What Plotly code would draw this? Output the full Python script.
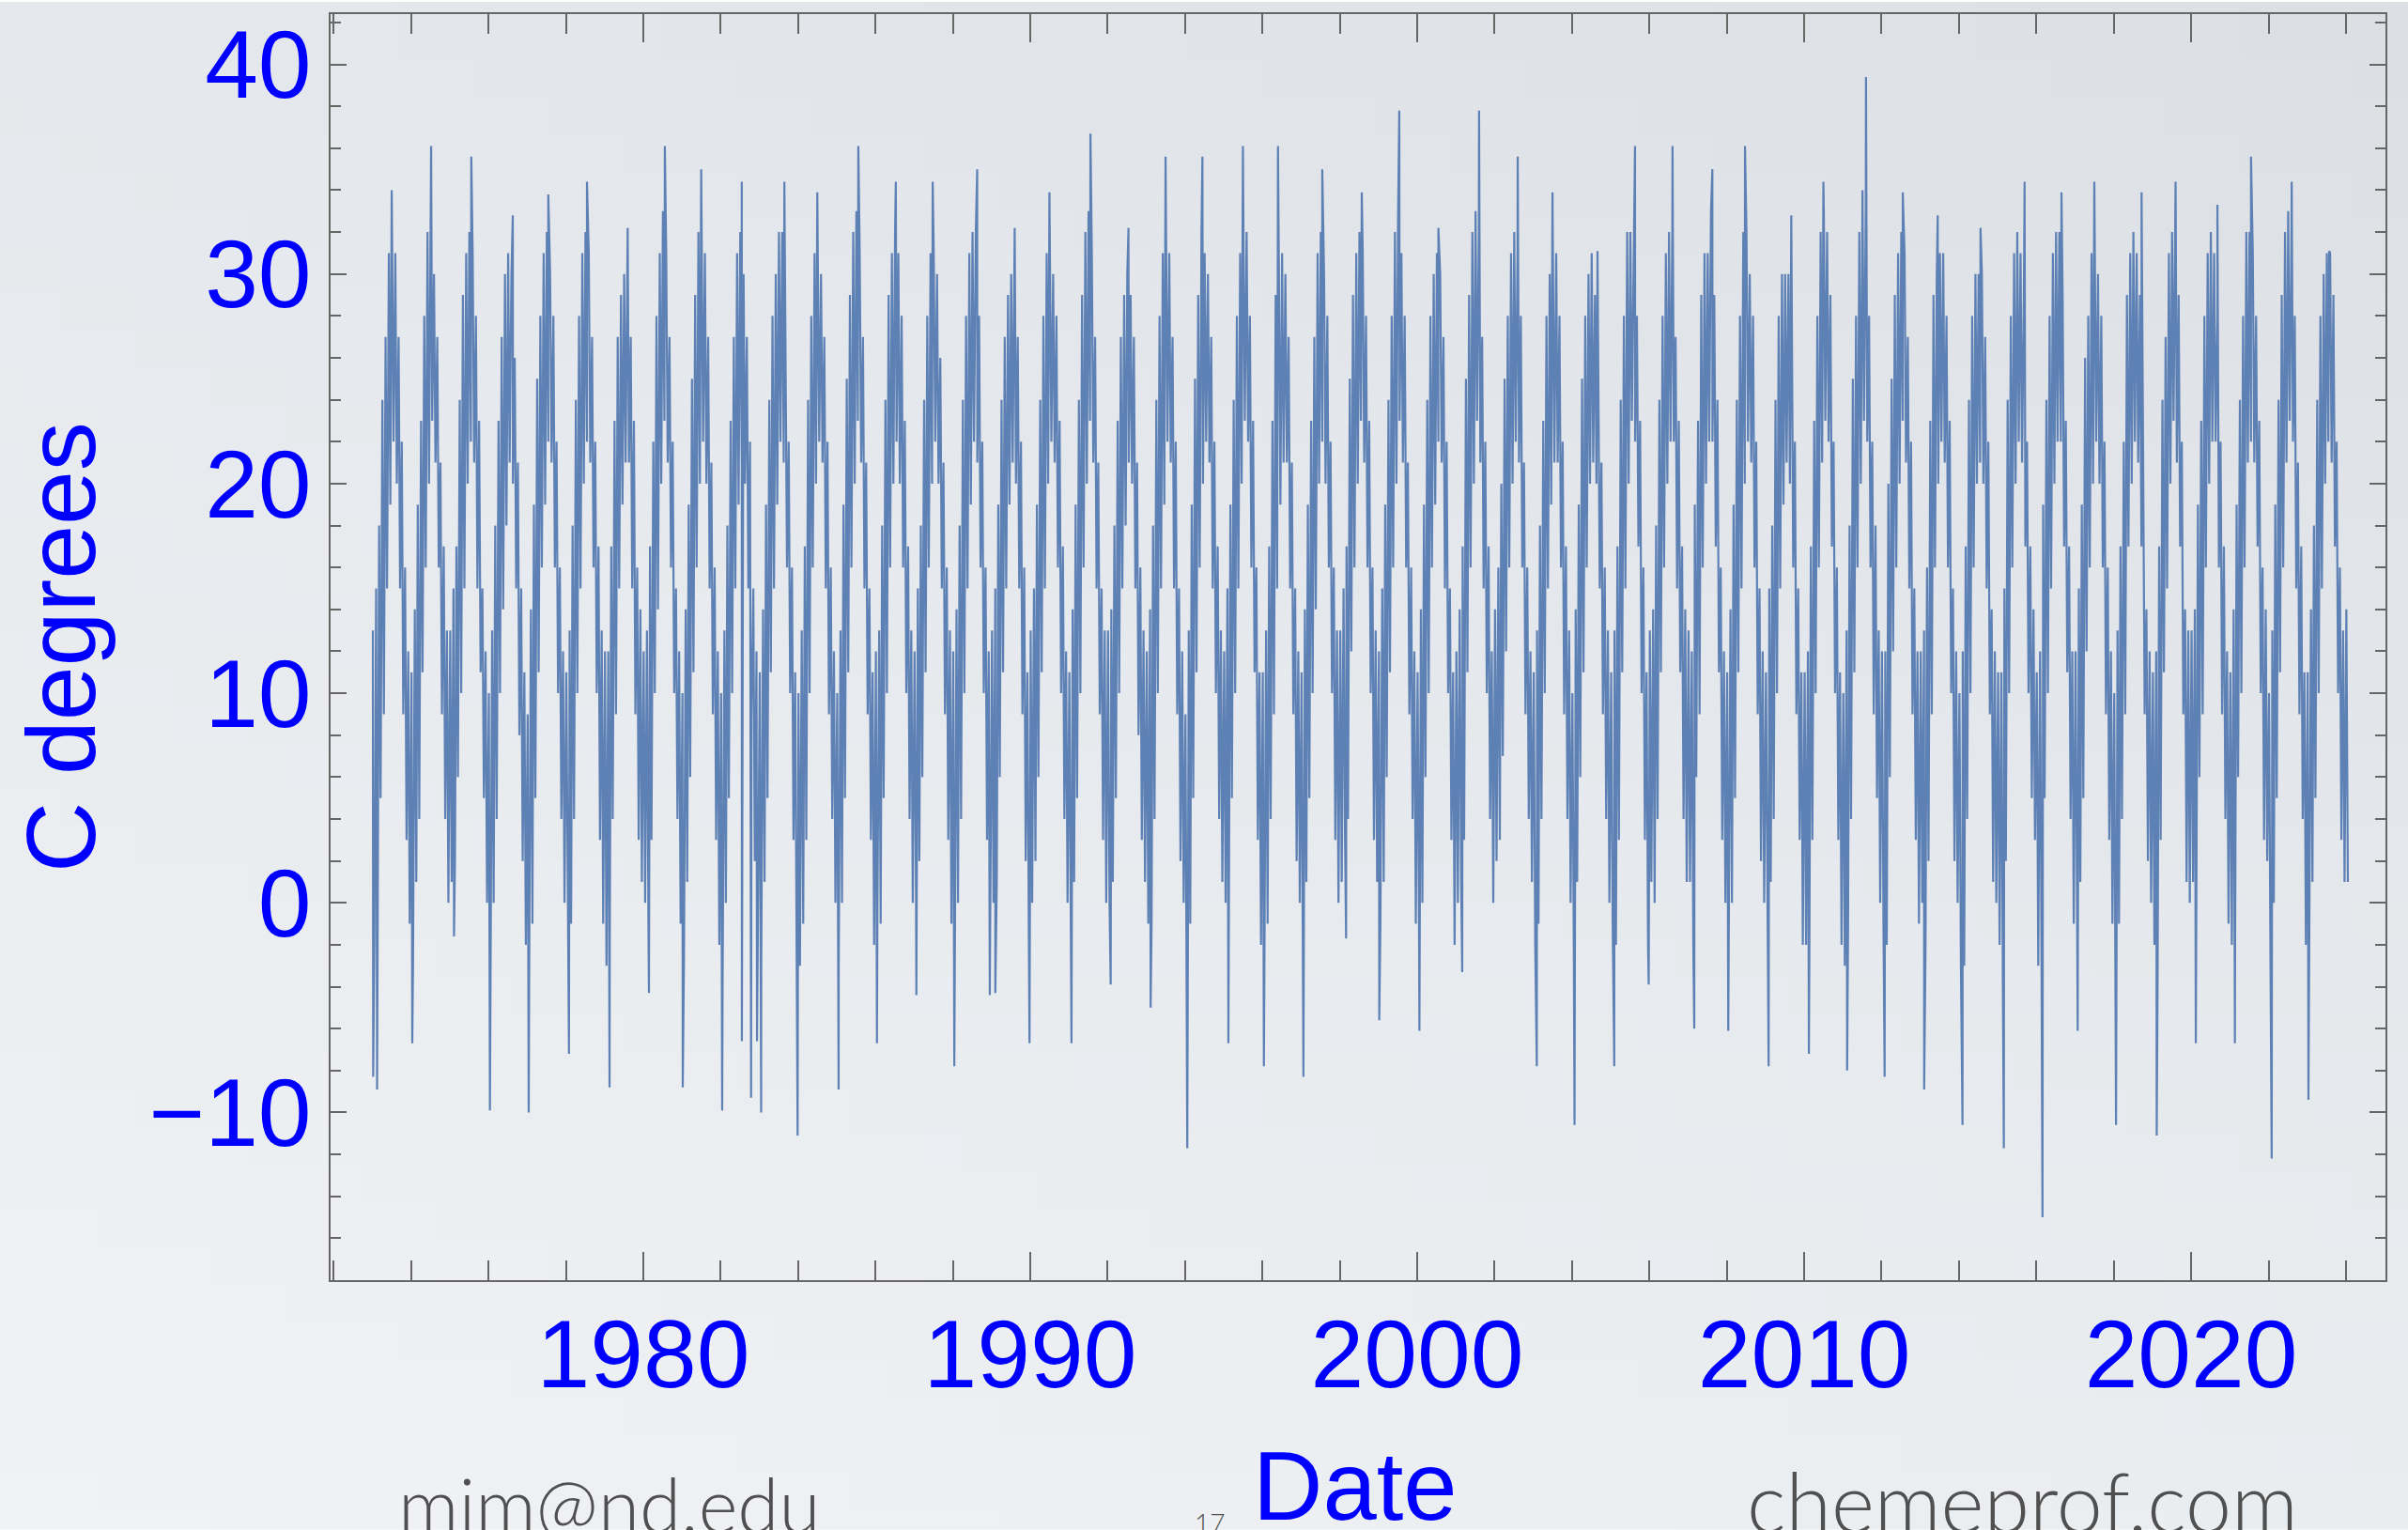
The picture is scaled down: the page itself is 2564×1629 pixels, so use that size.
import base64
import struct
import zlib

import pandas as pd
import plotly.graph_objects as go

# ---------------------------------------------------------------------------
# Data (C degrees). For every year: monthly upper / lower
# edges of the dense band, in the order
# [Jan hi, Jan lo, Feb hi, Feb lo, ..., Dec hi, Dec lo]
# ---------------------------------------------------------------------------
y1973 = [13, -2, 15, 0, 18, 5, 24, 9, 27, 15, 31, 19, 32, 22, 31, 20, 27, 15, 22, 9, 16, 3, 12, -1]
y1974 = [11, -3, 14, 1, 19, 4, 23, 11, 28, 16, 32, 20, 33, 23, 30, 21, 27, 16, 21, 9, 17, 4, 13, 0]
y1975 = [13, 1, 15, 2, 17, 6, 24, 10, 29, 15, 31, 20, 32, 22, 31, 21, 28, 15, 23, 11, 15, 5, 12, 0]
y1976 = [10, -4, 13, 0, 18, 4, 23, 10, 27, 14, 30, 18, 31, 21, 30, 20, 26, 15, 21, 8, 15, 2, 11, -2]
y1977 = [9, -4, 14, -1, 19, 5, 25, 11, 28, 16, 31, 19, 32, 22, 30, 21, 28, 16, 22, 10, 16, 4, 12, 0]
y1978 = [11, -2, 13, -1, 18, 4, 24, 10, 28, 15, 31, 20, 32, 22, 31, 21, 27, 16, 22, 10, 17, 3, 13, -1]
y1979 = [12, -3, 12, -2, 17, 4, 23, 9, 27, 15, 29, 19, 30, 21, 31, 21, 27, 15, 23, 9, 16, 3, 14, 1]
y1980 = [12, 0, 13, -1, 17, 3, 22, 10, 28, 14, 31, 20, 33, 23, 31, 21, 27, 16, 22, 10, 15, 4, 12, -1]
y1981 = [10, -3, 14, 1, 19, 6, 25, 11, 29, 16, 32, 20, 32, 22, 31, 20, 27, 15, 21, 9, 16, 3, 12, -2]
y1982 = [10, -4, 13, 0, 18, 5, 23, 10, 27, 15, 31, 19, 32, 21, 30, 20, 27, 15, 22, 9, 15, 2, 12, -1]
y1983 = [11, -3, 14, 1, 19, 5, 24, 11, 28, 15, 30, 19, 32, 22, 32, 21, 28, 16, 22, 10, 16, 3, 11, -3]
y1984 = [10, -3, 13, -1, 17, 3, 24, 10, 28, 16, 31, 20, 31, 22, 30, 21, 27, 15, 22, 9, 16, 4, 12, 0]
y1985 = [10, -3, 13, 0, 19, 5, 25, 11, 29, 16, 32, 20, 33, 23, 31, 21, 27, 15, 21, 9, 15, 3, 11, -2]
y1986 = [12, -1, 13, -1, 18, 5, 24, 10, 29, 16, 31, 20, 32, 22, 31, 20, 28, 16, 23, 10, 17, 4, 13, 0]
y1987 = [12, 0, 15, 2, 18, 6, 24, 11, 28, 16, 31, 20, 31, 22, 30, 20, 26, 15, 21, 9, 16, 3, 13, -1]
y1988 = [12, -2, 14, 0, 18, 4, 24, 10, 28, 15, 31, 19, 32, 22, 32, 21, 28, 16, 22, 10, 16, 3, 12, -1]
y1989 = [13, 0, 15, 1, 19, 6, 24, 11, 27, 15, 29, 19, 30, 21, 30, 20, 27, 15, 22, 9, 16, 2, 11, -2]
y1990 = [13, 0, 15, 2, 19, 6, 24, 11, 28, 15, 31, 20, 31, 22, 30, 21, 28, 16, 23, 10, 17, 4, 12, 0]
y1991 = [11, -2, 14, 1, 19, 5, 24, 10, 29, 16, 32, 20, 33, 23, 31, 21, 27, 15, 21, 9, 15, 3, 13, 0]
y1992 = [13, 0, 14, 1, 18, 5, 23, 10, 27, 15, 29, 18, 30, 21, 29, 20, 27, 15, 21, 8, 16, 3, 13, 1]
y1993 = [12, -1, 14, -1, 18, 4, 24, 10, 28, 15, 31, 19, 32, 22, 31, 21, 27, 15, 22, 9, 15, 2, 12, 0]
y1994 = [9, -4, 13, -1, 19, 5, 25, 11, 29, 16, 32, 20, 31, 22, 30, 21, 27, 15, 22, 10, 17, 4, 13, 1]
y1995 = [12, 0, 15, 0, 19, 5, 24, 10, 28, 15, 31, 20, 33, 23, 32, 22, 28, 16, 23, 11, 16, 3, 11, -2]
y1996 = [11, -3, 13, -1, 17, 4, 23, 9, 29, 15, 30, 19, 31, 21, 30, 21, 27, 15, 21, 9, 15, 2, 12, 0]
y1997 = [11, -3, 14, 1, 19, 5, 23, 10, 27, 14, 31, 20, 32, 22, 30, 20, 28, 16, 22, 10, 16, 3, 13, 0]
y1998 = [13, 1, 15, 3, 17, 4, 25, 12, 29, 16, 31, 20, 32, 23, 31, 21, 28, 16, 23, 10, 16, 3, 13, 1]
y1999 = [12, -1, 15, 1, 19, 6, 24, 11, 28, 16, 32, 20, 33, 23, 31, 21, 28, 16, 21, 9, 16, 4, 12, -1]
y2000 = [11, -2, 14, 0, 19, 6, 24, 10, 28, 16, 30, 19, 31, 22, 30, 21, 27, 15, 22, 10, 15, 3, 11, -2]
y2001 = [12, 0, 14, 1, 17, 3, 25, 11, 29, 16, 32, 20, 33, 23, 32, 21, 27, 15, 22, 10, 17, 4, 12, 0]
y2002 = [14, 2, 16, 3, 20, 7, 25, 12, 28, 16, 31, 20, 32, 22, 31, 21, 28, 16, 21, 9, 16, 4, 12, 1]
y2003 = [11, -2, 13, -1, 18, 4, 23, 10, 28, 15, 30, 19, 31, 21, 31, 21, 28, 16, 22, 9, 17, 4, 13, 0]
y2004 = [10, -3, 14, 1, 19, 6, 25, 11, 28, 16, 30, 20, 31, 21, 29, 20, 27, 15, 21, 9, 16, 4, 13, 0]
y2005 = [11, -1, 13, -2, 17, 3, 24, 11, 28, 15, 32, 20, 32, 23, 31, 22, 28, 17, 23, 10, 16, 3, 11, -2]
y2006 = [13, 1, 14, 0, 18, 4, 24, 11, 28, 16, 31, 20, 32, 22, 32, 22, 27, 15, 23, 11, 17, 4, 14, 1]
y2007 = [13, 1, 12, -2, 19, 6, 23, 9, 29, 16, 31, 20, 31, 22, 33, 22, 29, 17, 24, 11, 16, 3, 12, 0]
y2008 = [11, -2, 14, 0, 19, 5, 24, 11, 28, 15, 32, 20, 32, 22, 30, 21, 28, 16, 22, 9, 15, 2, 12, 0]
y2009 = [11, -3, 15, 1, 18, 4, 24, 10, 28, 15, 30, 19, 30, 21, 30, 20, 28, 16, 22, 9, 15, 3, 11, -2]
y2010 = [11, -2, 12, -2, 17, 3, 23, 10, 28, 16, 32, 21, 33, 23, 32, 22, 29, 17, 22, 10, 16, 3, 11, -2]
y2011 = [10, -3, 13, -1, 18, 4, 25, 11, 28, 16, 32, 20, 34, 23, 33, 22, 28, 16, 22, 9, 18, 5, 13, 0]
y2012 = [12, -1, 12, -2, 20, 6, 25, 12, 29, 16, 31, 20, 32, 23, 31, 21, 27, 15, 22, 9, 15, 3, 12, -1]
y2013 = [12, 0, 13, -2, 16, 2, 23, 9, 29, 16, 30, 20, 31, 22, 31, 21, 28, 16, 23, 10, 15, 2, 12, 0]
y2014 = [10, -3, 12, -3, 17, 4, 24, 10, 28, 16, 30, 20, 30, 21, 30, 20, 27, 15, 22, 9, 14, 1, 12, 0]
y2015 = [11, -2, 11, -4, 15, 2, 24, 10, 28, 16, 31, 20, 32, 22, 31, 21, 29, 17, 22, 10, 17, 5, 14, 3]
y2016 = [11, -3, 12, -3, 19, 5, 24, 10, 28, 15, 31, 20, 32, 22, 32, 22, 29, 17, 23, 11, 17, 4, 12, -1]
y2017 = [12, 0, 15, 1, 19, 5, 26, 12, 28, 16, 31, 20, 32, 22, 30, 20, 28, 16, 22, 9, 16, 3, 12, -1]
y2018 = [10, -3, 13, -1, 17, 4, 22, 9, 29, 17, 31, 20, 32, 22, 31, 21, 29, 17, 21, 9, 14, 2, 12, 0]
y2019 = [11, -2, 12, -3, 17, 3, 24, 11, 27, 15, 31, 20, 32, 23, 31, 21, 29, 17, 22, 9, 14, 1, 13, 0]
y2020 = [13, 1, 14, -1, 19, 6, 23, 9, 28, 16, 31, 20, 32, 22, 31, 22, 28, 16, 22, 9, 17, 4, 12, -1]
y2021 = [11, -2, 14, -2, 19, 6, 24, 10, 28, 16, 32, 21, 32, 22, 31, 21, 28, 17, 23, 10, 16, 3, 14, 2]
y2022 = [10, -3, 13, 0, 19, 5, 24, 11, 29, 16, 32, 21, 33, 23, 32, 22, 28, 15, 21, 9, 17, 4, 11, -2]
y2023 = [11, -2, 14, 1, 18, 5, 24, 10, 28, 15, 30, 20, 31, 22, 31, 21, 29, 17, 22, 10, 16, 3, 13, 1]

band_years = list(range(1973, 2024))
band_values = [
    y1973, y1974, y1975, y1976, y1977, y1978, y1979, y1980, y1981, y1982,
    y1983, y1984, y1985, y1986, y1987, y1988, y1989, y1990, y1991, y1992,
    y1993, y1994, y1995, y1996, y1997, y1998, y1999, y2000, y2001, y2002,
    y2003, y2004, y2005, y2006, y2007, y2008, y2009, y2010, y2011, y2012,
    y2013, y2014, y2015, y2016, y2017, y2018, y2019, y2020, y2021, y2022,
    y2023,
]

# last few readings (January 2024)
tail_dates = ["2024-01-05", "2024-01-19"]
tail_values = [14, 1]

# isolated summer maxima (spikes above the band)
max_dates = [
    "1973-07-02", "1974-07-09", "1975-07-23", "1976-08-18", "1977-07-19",
    "1978-07-19", "1979-08-07", "1980-07-23", "1981-07-01", "1982-07-19",
    "1983-08-25", "1984-07-01", "1985-07-23", "1986-07-12", "1987-06-25",
    "1988-08-18", "1989-08-07", "1990-07-01", "1991-07-23", "1992-07-16",
    "1993-07-01", "1994-06-14", "1995-07-01", "1996-05-27", "1997-07-19",
    "1998-07-27", "1999-07-16", "2000-07-19", "2001-08-07", "2002-08-07",
    "2003-07-01", "2004-08-29", "2005-08-18", "2006-08-07", "2007-08-18",
    "2008-06-21", "2009-09-01", "2010-07-01", "2011-08-07", "2012-07-19",
    "2013-06-14", "2014-07-23", "2015-09-12", "2016-08-25", "2017-07-01",
    "2018-09-20", "2019-08-07", "2020-09-05", "2021-07-19", "2022-08-07",
    "2023-07-27",
]
max_values = [
    34.0, 36.1, 35.6, 32.8, 33.8, 34.4, 32.2, 36.1, 35.0, 34.4,
    34.4, 33.9, 36.1, 34.4, 34.4, 35.0, 32.2, 33.9, 36.7, 32.2,
    35.6, 35.6, 36.1, 36.1, 35.0, 33.9, 37.8, 32.2, 37.8, 35.6,
    33.9, 31.1, 36.1, 36.1, 35.0, 36.1, 32.8, 34.4, 39.4, 33.9,
    32.8, 32.2, 34.4, 33.9, 34.4, 33.9, 34.4, 33.3, 35.6, 34.4,
    31.1,
]

# isolated winter minima (spikes below the band)
min_dates = [
    "1973-01-08", "1973-02-14", "1974-01-12", "1975-02-10", "1976-01-15",
    "1977-01-15", "1978-01-30", "1979-02-17", "1980-02-24", "1981-01-08",
    "1982-01-15", "1982-07-20", "1982-10-15", "1982-12-10", "1983-01-18",
    "1983-12-28", "1985-01-18", "1986-01-15", "1987-01-22", "1988-01-15",
    "1988-12-15", "1989-02-05", "1989-12-25", "1991-01-25", "1992-01-30",
    "1993-02-10", "1994-01-22", "1995-02-14", "1996-01-15", "1997-01-22",
    "1998-03-01", "1999-01-08", "2000-01-22", "2001-03-01", "2003-02-03",
    "2004-01-25", "2005-02-03", "2005-12-25", "2007-02-28", "2008-01-15",
    "2009-01-30", "2010-02-14", "2011-02-10", "2012-01-30", "2013-02-06",
    "2014-02-03", "2015-02-28", "2016-02-28", "2017-01-25", "2018-01-22",
    "2019-02-10", "2020-02-14", "2021-02-17", "2022-01-30", "2023-01-12",
]
min_values = [
    -8.3, -8.9, -6.7, -1.6, -9.9,
    -10.0, -7.2, -8.8, -4.3, -8.8,
    -9.9, -6.6, -9.3, -6.6, -10.0,
    -11.1, -8.9, -6.7, -4.4, -7.8,
    -4.4, -4.3, -6.7, -6.7, -3.9,
    -5.0, -11.7, -6.7, -7.8, -8.3,
    -1.7, -5.6, -6.1, -3.3, -7.8,
    -10.6, -7.8, -3.9, -6.0, -6.1,
    -7.8, -7.2, -8.0, -8.3, -8.9,
    -10.6, -11.7, -15.0, -6.1, -10.6,
    -11.1, -6.7, -6.7, -12.2, -9.4,
]

x_tick_labels = ["1980", "1990", "2000", "2010", "2020"]
y_tick_values = [-10, 0, 10, 20, 30, 40]

# ---------------------------------------------------------------------------
# Assemble the time series (sorted by date)
# ---------------------------------------------------------------------------
points = []
for year, vals in zip(band_years, band_values):
    for m in range(12):
        points.append((pd.Timestamp(year, m + 1, 5), vals[2 * m]))
        points.append((pd.Timestamp(year, m + 1, 19), vals[2 * m + 1]))
for d, v in zip(tail_dates, tail_values):
    points.append((pd.Timestamp(d), v))
for d, v in zip(max_dates, max_values):
    points.append((pd.Timestamp(d), v))
for d, v in zip(min_dates, min_values):
    points.append((pd.Timestamp(d), v))
points.sort(key=lambda p: p[0])
xs = [p[0] for p in points]
ys = [p[1] for p in points]

# ---------------------------------------------------------------------------
# Slide background (soft grey gradient) as an inline PNG
# ---------------------------------------------------------------------------
def gradient_uri(w, h, tl, tr, bl, br):
    raw = bytearray()
    for j in range(h):
        fy = j / (h - 1)
        raw.append(0)
        for i in range(w):
            fx = i / (w - 1)
            for k in range(3):
                top = (1 - fx) * tl[k] + fx * tr[k]
                bot = (1 - fx) * bl[k] + fx * br[k]
                raw.append(int(round((1 - fy) * top + fy * bot)))

    def chunk(tag, data):
        return (struct.pack(">I", len(data)) + tag + data
                + struct.pack(">I", zlib.crc32(tag + data) & 0xFFFFFFFF))

    png = (b"\x89PNG\r\n\x1a\n"
           + chunk(b"IHDR", struct.pack(">IIBBBBB", w, h, 8, 2, 0, 0, 0))
           + chunk(b"IDAT", zlib.compress(bytes(raw)))
           + chunk(b"IEND", b""))
    return "data:image/png;base64," + base64.b64encode(png).decode()


bg = gradient_uri(64, 40, (229, 232, 236), (220, 224, 229), (240, 242, 245), (234, 237, 240))

W, H = 2564, 1629
L, R, T, B = 352, 24, 13, 266
PW, PH = W - L - R, H - T - B


def px(xp):
    return (xp - L) / PW


def py(yp):
    return (H - B - yp) / PH


fig = go.Figure()
fig.add_trace(go.Scatter(
    x=xs, y=ys, mode="lines",
    line=dict(color="#5E81B5", width=2.2),
    hoverinfo="skip", showlegend=False,
))

frame = "#666666"
tick_font = dict(family="Liberation Sans, Arial, sans-serif", size=102, color="#0000FF")

fig.update_layout(
    width=W, height=H,
    margin=dict(l=L, r=R, t=T, b=B, pad=0),
    paper_bgcolor="rgba(0,0,0,0)",
    plot_bgcolor="rgba(0,0,0,0)",
    showlegend=False,
    images=[dict(source=bg, xref="paper", yref="paper",
                 x=px(0), y=py(0), sizex=W / PW, sizey=H / PH,
                 xanchor="left", yanchor="top", sizing="stretch", layer="below")],
    xaxis=dict(
        type="date",
        range=["1971-12-03", "2025-01-08"],
        showgrid=False, zeroline=False,
        showline=True, linecolor=frame, linewidth=2, mirror="allticks",
        ticks="inside", ticklen=30, tickwidth=2, tickcolor=frame,
        tickmode="array",
        tickvals=[pd.Timestamp(int(t), 1, 1) for t in x_tick_labels],
        ticktext=x_tick_labels,
        tickfont=tick_font,
        ticklabelstandoff=-10,
        minor=dict(dtick="M24", tick0="1972-01-01", ticks="inside",
                   ticklen=21, tickwidth=2, tickcolor=frame, showgrid=False),
    ),
    yaxis=dict(
        range=[-18.0, 42.4],
        showgrid=False, zeroline=False,
        showline=True, linecolor=frame, linewidth=2, mirror="allticks",
        ticks="inside", ticklen=17, tickwidth=2, tickcolor=frame,
        tickmode="array", tickvals=y_tick_values,
        tickfont=tick_font,
        ticklabelstandoff=-2,
        minor=dict(dtick=2, tick0=0, ticks="inside",
                   ticklen=11, tickwidth=2, tickcolor=frame, showgrid=False),
    ),
    annotations=[
        dict(text="C degrees", xref="paper", yref="paper", x=px(65), y=py(688),
             textangle=-90, showarrow=False, xanchor="center", yanchor="middle",
             font=dict(family="Liberation Sans, Arial, sans-serif", size=104, color="#0000FF")),
        dict(text="Date", xref="paper", yref="paper", x=px(1443), y=py(1583),
             showarrow=False, xanchor="center", yanchor="middle",
             font=dict(family="Liberation Sans, Arial, sans-serif", size=103, color="#0000FF")),
        dict(text="mim@nd.edu", xref="paper", yref="paper", x=px(648), y=py(1601),
             showarrow=False, xanchor="center", yanchor="middle",
             font=dict(family="Lato, Open Sans, sans-serif", size=80, color="#505050", weight=300)),
        dict(text="chemeprof.com", xref="paper", yref="paper", x=px(2153), y=py(1598),
             showarrow=False, xanchor="center", yanchor="middle",
             font=dict(family="Lato, Open Sans, sans-serif", size=88, color="#505050", weight=300)),
        dict(text="17", xref="paper", yref="paper", x=px(1288), y=py(1621),
             showarrow=False, xanchor="center", yanchor="middle",
             font=dict(family="Lato, Open Sans, sans-serif", size=28, color="#505050", weight=300)),
    ],
)

fig.write_html(
    "out.html",
    config={"displayModeBar": False},
    post_script="document.body.style.margin='0';document.body.style.overflow='hidden';",
)
